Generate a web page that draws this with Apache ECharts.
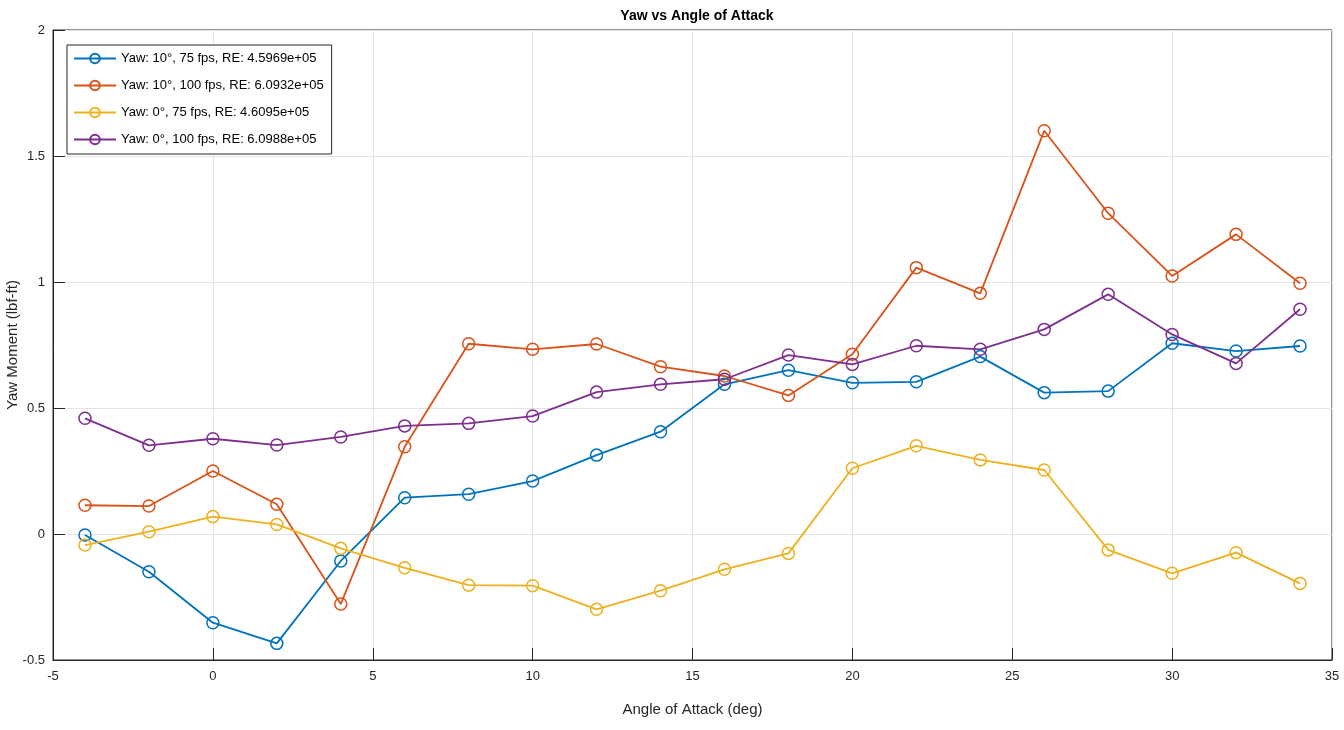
<!DOCTYPE html>
<html>
<head>
<meta charset="utf-8">
<script src="https://cdn.jsdelivr.net/npm/echarts@6/dist/echarts.min.js"></script>
<style>
  html, body { margin: 0; padding: 0; background: #fff; }
  #box { width: 1344px; height: 730px; }
</style>
</head>
<body>
<div id="box"></div>
<script>
// angle of attack (deg)
const angles = [-4, -2, 0, 2, 4, 6, 8, 10, 12, 14, 16, 18, 20, 22, 24, 26, 28, 30, 32, 34]
const yaw10fps75 = [-0.004, -0.15, -0.352, -0.434, -0.107, 0.144, 0.158, 0.21, 0.313, 0.406, 0.594, 0.65, 0.60, 0.604, 0.704, 0.561, 0.567, 0.757, 0.726, 0.746]
const yaw10fps100 = [0.114, 0.111, 0.25, 0.118, -0.278, 0.346, 0.755, 0.733, 0.754, 0.664, 0.627, 0.55, 0.713, 1.057, 0.955, 1.60, 1.273, 1.024, 1.189, 0.995]
const yaw0fps75 = [-0.044, 0.009, 0.069, 0.038, -0.057, -0.134, -0.203, -0.205, -0.299, -0.225, -0.14, -0.077, 0.261, 0.35, 0.294, 0.254, -0.063, -0.156, -0.074, -0.196]
const yaw0fps100 = [0.459, 0.352, 0.378, 0.353, 0.385, 0.429, 0.439, 0.468, 0.563, 0.594, 0.614, 0.71, 0.673, 0.747, 0.733, 0.812, 0.951, 0.792, 0.677, 0.892]
const names = [
  'Yaw: 10°, 75 fps, RE: 4.5969e+05',
  'Yaw: 10°, 100 fps, RE: 6.0932e+05',
  'Yaw: 0°, 75 fps, RE: 4.6095e+05',
  'Yaw: 0°, 100 fps, RE: 6.0988e+05'
]
const colors = ['#0072BD', '#D95319', '#EDB120', '#7E2F8E']
const xTicks = { min: -5, max: 35, interval: 5 }
const yTicks = { min: -0.5, max: 2, interval: 0.5 }

const font = '"Liberation Sans", Arial, sans-serif'

function makeSeries (name, values, color) {
  return {
    name: name,
    type: 'line',
    data: angles.map((a, i) => [a, values[i]]),
    symbol: 'circle',
    symbolSize: 12,
    showSymbol: true,
    lineStyle: { color: color, width: 1.8 },
    itemStyle: { color: 'rgba(255,255,255,0)', borderColor: color, borderWidth: 1.5 },
    emphasis: { disabled: true },
    animation: false
  }
}

const chart = echarts.init(document.getElementById('box'))
chart.setOption({
  color: colors,
  textStyle: { fontFamily: font },
  title: {
    text: 'Yaw vs Angle of Attack',
    left: 692,
    textAlign: 'center',
    top: 4,
    textStyle: { fontSize: 14, fontWeight: 'bold', color: '#000', fontFamily: font }
  },
  grid: {
    left: 53,
    right: 12,
    top: 30,
    bottom: 70,
    outerBoundsMode: 'none',
    show: true,
    borderColor: '#262626',
    borderWidth: 1
  },
  legend: {
    orient: 'vertical',
    left: 67,
    top: 45,
    itemWidth: 42,
    itemHeight: 12,
    itemGap: 14,
    padding: [7, 8, 8, 6],
    backgroundColor: '#fff',
    borderColor: '#262626',
    borderWidth: 1,
    borderRadius: 0,
    textStyle: { fontSize: 13, color: '#000', fontFamily: font },
    data: names
  },
  xAxis: {
    type: 'value',
    min: xTicks.min,
    max: xTicks.max,
    interval: xTicks.interval,
    name: 'Angle of Attack (deg)',
    nameLocation: 'middle',
    nameGap: 42,
    nameMoveOverlap: false,
    nameTextStyle: { fontSize: 15, color: '#262626' },
    axisLine: { onZero: false, lineStyle: { color: '#262626' } },
    axisTick: { inside: true, length: 12, lineStyle: { color: '#262626' } },
    axisLabel: { fontSize: 13, color: '#262626', margin: 10 },
    splitLine: { lineStyle: { color: '#e3e3e3' } }
  },
  yAxis: {
    type: 'value',
    min: yTicks.min,
    max: yTicks.max,
    interval: yTicks.interval,
    name: 'Yaw Moment (lbf-ft)',
    nameLocation: 'middle',
    nameGap: 33,
    nameMoveOverlap: false,
    nameTextStyle: { fontSize: 15, color: '#262626' },
    axisLine: { onZero: false, lineStyle: { color: '#262626' } },
    axisTick: { inside: true, length: 12, lineStyle: { color: '#262626' } },
    axisLabel: { fontSize: 13, color: '#262626', margin: 8 },
    splitLine: { lineStyle: { color: '#e3e3e3' } }
  },
  series: [
    makeSeries(names[0], yaw10fps75, colors[0]),
    makeSeries(names[1], yaw10fps100, colors[1]),
    makeSeries(names[2], yaw0fps75, colors[2]),
    makeSeries(names[3], yaw0fps100, colors[3])
  ]
})
</script>
</body>
</html>
